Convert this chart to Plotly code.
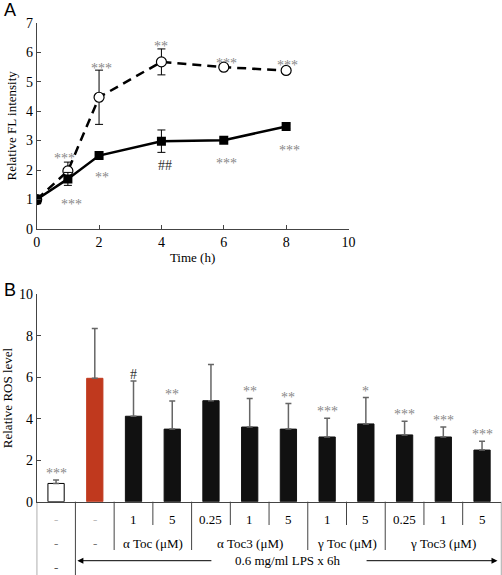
import plotly.graph_objects as go

# ---------- Panel A data ----------
time_h = [0, 1, 2, 4, 6, 8]
solid_vals = [1.0, 1.70, 2.49, 2.98, 3.01, 3.48]
solid_err = [0.15, 0.22, 0.08, 0.38, 0.08, 0.08]
dashed_vals = [1.0, 1.97, 4.47, 5.67, 5.49, 5.38]
dashed_err = [0.12, 0.30, 0.92, 0.44, 0.08, 0.05]

# significance marks panel A
a_marks_x = [0.9, 1.12, 2.1, 2.08, 4.0, 4.13, 6.1, 6.08, 8.04, 8.1]
a_marks_y = [2.5, 0.95, 1.85, 5.55, 6.3, 2.27, 2.33, 5.73, 5.66, 2.78]
a_marks_t = ["***", "***", "**", "***", "**", "##", "***", "***", "***", "***"]
a_marks_c = ["#888", "#888", "#888", "#888", "#888", "#333", "#888", "#888", "#888", "#888"]

# ---------- Panel B data ----------
row1_labels = ["-", "-", "1", "5", "0.25", "1", "5", "1", "5", "0.25", "1", "5"]
ros_vals = [0.88, 5.95, 4.12, 3.50, 4.87, 3.60, 3.50, 3.12, 3.75, 3.22, 3.12, 2.49]
ros_err = [0.17, 2.40, 1.70, 1.35, 1.75, 1.38, 1.23, 0.90, 1.27, 0.66, 0.48, 0.43]
ros_marks = ["***", "", "#", "**", "", "**", "**", "***", "*", "***", "***", "***"]
bar_colors = ["white", "#c0391e", "#111111", "#111111", "#111111", "#111111",
              "#111111", "#111111", "#111111", "#111111", "#111111", "#111111"]
bar_edges = ["black", "#c0391e", "#111111", "#111111", "#111111", "#111111",
             "#111111", "#111111", "#111111", "#111111", "#111111", "#111111"]
groups = [("α Toc (μM)", 2, 3), ("α Toc3 (μM)", 4, 6), ("γ Toc (μM)", 7, 8), ("γ Toc3 (μM)", 9, 11)]
lps_label = "0.6 mg/ml LPS x 6h"

SERIF = "Liberation Serif"
fig = go.Figure()

fig.add_trace(go.Scatter(
    x=time_h, y=dashed_vals, mode="lines+markers",
    line=dict(color="black", width=2.5, dash="9px,6px"),
    marker=dict(symbol="circle", size=10, color="white", line=dict(color="black", width=1.2)),
    error_y=dict(type="data", array=dashed_err, color="black", thickness=1, width=4),
    xaxis="x", yaxis="y", showlegend=False))
fig.add_trace(go.Scatter(
    x=time_h, y=solid_vals, mode="lines+markers",
    line=dict(color="black", width=2.5),
    marker=dict(symbol="square", size=9, color="black"),
    error_y=dict(type="data", array=solid_err, color="black", thickness=1, width=4),
    xaxis="x", yaxis="y", showlegend=False))

cats = list(range(len(ros_vals)))
fig.add_trace(go.Bar(
    x=cats, y=ros_vals, width=0.42,
    marker=dict(color=bar_colors, line=dict(color=bar_edges, width=1)),
    error_y=dict(type="data", array=ros_err, arrayminus=[0]*len(ros_err), symmetric=False,
                 color="#666", thickness=1.5, width=3),
    xaxis="x2", yaxis="y2", showlegend=False))

annotations = []
for x, y, t, c in zip(a_marks_x, a_marks_y, a_marks_t, a_marks_c):
    annotations.append(dict(x=x, y=y, xref="x", yref="y", text=t, showarrow=False,
                            yanchor="middle", yshift=-3,
                            font=dict(family=SERIF, size=14, color=c)))
for i, (v, e, m) in enumerate(zip(ros_vals, ros_err, ros_marks)):
    if m:
        annotations.append(dict(x=i, y=v + e, xref="x2", yref="y2", text=m, showarrow=False,
                                yanchor="bottom", yshift=-3, font=dict(family=SERIF, size=14,
                                color="#333" if m.startswith("#") else "#888")))

# table rows
Y0 = (575 - 501.7) / 575
YR1 = (575 - 525) / 575
YR2 = (575 - 550) / 575
row1_y = (575 - 519.3) / 575
row2_y = (575 - 543.3) / 575
row3_y = (575 - 560.7) / 575
tfont = dict(family=SERIF, size=13, color="black")
for i, lab in enumerate(row1_labels):
    col = "#bbb" if lab == "-" else "black"
    annotations.append(dict(x=i, y=row1_y, xref="x2", yref="paper", text=lab, showarrow=False,
                            yanchor="middle", font=dict(family=SERIF, size=13, color=col)))
for i in (0, 1):
    annotations.append(dict(x=i, y=row2_y, xref="x2", yref="paper", text="-", showarrow=False,
                            yanchor="middle", font=dict(family=SERIF, size=13, color="#777")))
annotations.append(dict(x=0, y=(575 - 567) / 575, xref="x2", yref="paper", text="-", showarrow=False,
                        yanchor="middle", font=dict(family=SERIF, size=13, color="#555")))
for name, a, b in groups:
    annotations.append(dict(x=(a + b) / 2, y=row2_y, xref="x2", yref="paper", text=name, showarrow=False,
                            yanchor="middle", font=tfont))
annotations.append(dict(x=6.0, y=row3_y, xref="x2", yref="paper", text=lps_label, showarrow=False,
                        yanchor="middle", font=tfont))
# arrows
annotations.append(dict(x=0.55, y=row3_y, xref="x2", yref="paper", ax=4.05, ay=0,
                        axref="x2", ayref="pixel", text="", showarrow=True,
                        arrowhead=2, arrowsize=1.2, arrowwidth=1, arrowcolor="black"))
annotations.append(dict(x=11.4, y=row3_y, xref="x2", yref="paper", ax=7.98, ay=0,
                        axref="x2", ayref="pixel", text="", showarrow=True,
                        arrowhead=2, arrowsize=1.2, arrowwidth=1, arrowcolor="black"))

# panel labels
annotations.append(dict(x=0.003, y=1.003, xref="paper", yref="paper", text="A", showarrow=False,
                        xanchor="left", yanchor="top", font=dict(family="Arial", size=18, color="black")))
annotations.append(dict(x=0.003, y=(575 - 278) / 575, xref="paper", yref="paper", text="B", showarrow=False,
                        xanchor="left", yanchor="top", font=dict(family="Arial", size=18, color="black")))

shapes = []
line_full = [0.5]
line_two = [1.5, 3.5, 6.5, 8.5]
line_one = [2.5, 4.5, 5.5, 7.5, 9.5, 10.5]
for xv in line_full + [-0.5, 11.5]:
    shapes.append(dict(type="line", xref="x2", yref="paper", x0=xv, x1=xv, y0=Y0, y1=0,
                       line=dict(color="#444", width=1)))
for xv in line_two:
    shapes.append(dict(type="line", xref="x2", yref="paper", x0=xv, x1=xv, y0=Y0, y1=YR2,
                       line=dict(color="#444", width=1)))
for xv in line_one:
    shapes.append(dict(type="line", xref="x2", yref="paper", x0=xv, x1=xv, y0=Y0, y1=YR1,
                       line=dict(color="#444", width=1)))

axis_common = dict(showgrid=False, zeroline=False, showline=True, linecolor="#444", linewidth=1,
                   automargin=False, tickfont=dict(family=SERIF, size=14, color="black"))

fig.update_layout(
    width=502, height=575, margin=dict(l=0, r=0, t=0, b=0),
    paper_bgcolor="white", plot_bgcolor="white",
    font=dict(family=SERIF),
    xaxis=dict(domain=[36.7 / 502, 348.5 / 502], range=[0, 10], tickvals=[0, 2, 4, 6, 8, 10],
               ticks="inside", ticklen=4, tickcolor="#444", anchor="y",
               title=dict(text="Time (h)", font=dict(family=SERIF, size=13, color="black"), standoff=4),
               **axis_common),
    yaxis=dict(domain=[(575 - 229) / 575, (575 - 22.7) / 575], range=[0, 7], dtick=1,
               ticks="inside", ticklen=4, tickcolor="#444", anchor="x",
               title=dict(text="Relative FL intensity", font=dict(family=SERIF, size=13, color="black"), standoff=6),
               **axis_common),
    xaxis2=dict(domain=[36.7 / 502, 501.4 / 502], range=[-0.5, 11.5], showticklabels=False,
                ticks="", anchor="y2", **axis_common),
    yaxis2=dict(domain=[(575 - 501.7) / 575, (575 - 294.3) / 575], range=[0, 10], dtick=2,
                ticks="inside", ticklen=4, tickcolor="#444", anchor="x2",
                title=dict(text="Relative ROS level", font=dict(family=SERIF, size=13, color="black"), standoff=6),
                **axis_common),
    annotations=annotations, shapes=shapes,
)

fig.write_html("out.html", config={"displayModeBar": False},
               post_script="document.body.style.margin='0';document.body.style.overflow='hidden';")
